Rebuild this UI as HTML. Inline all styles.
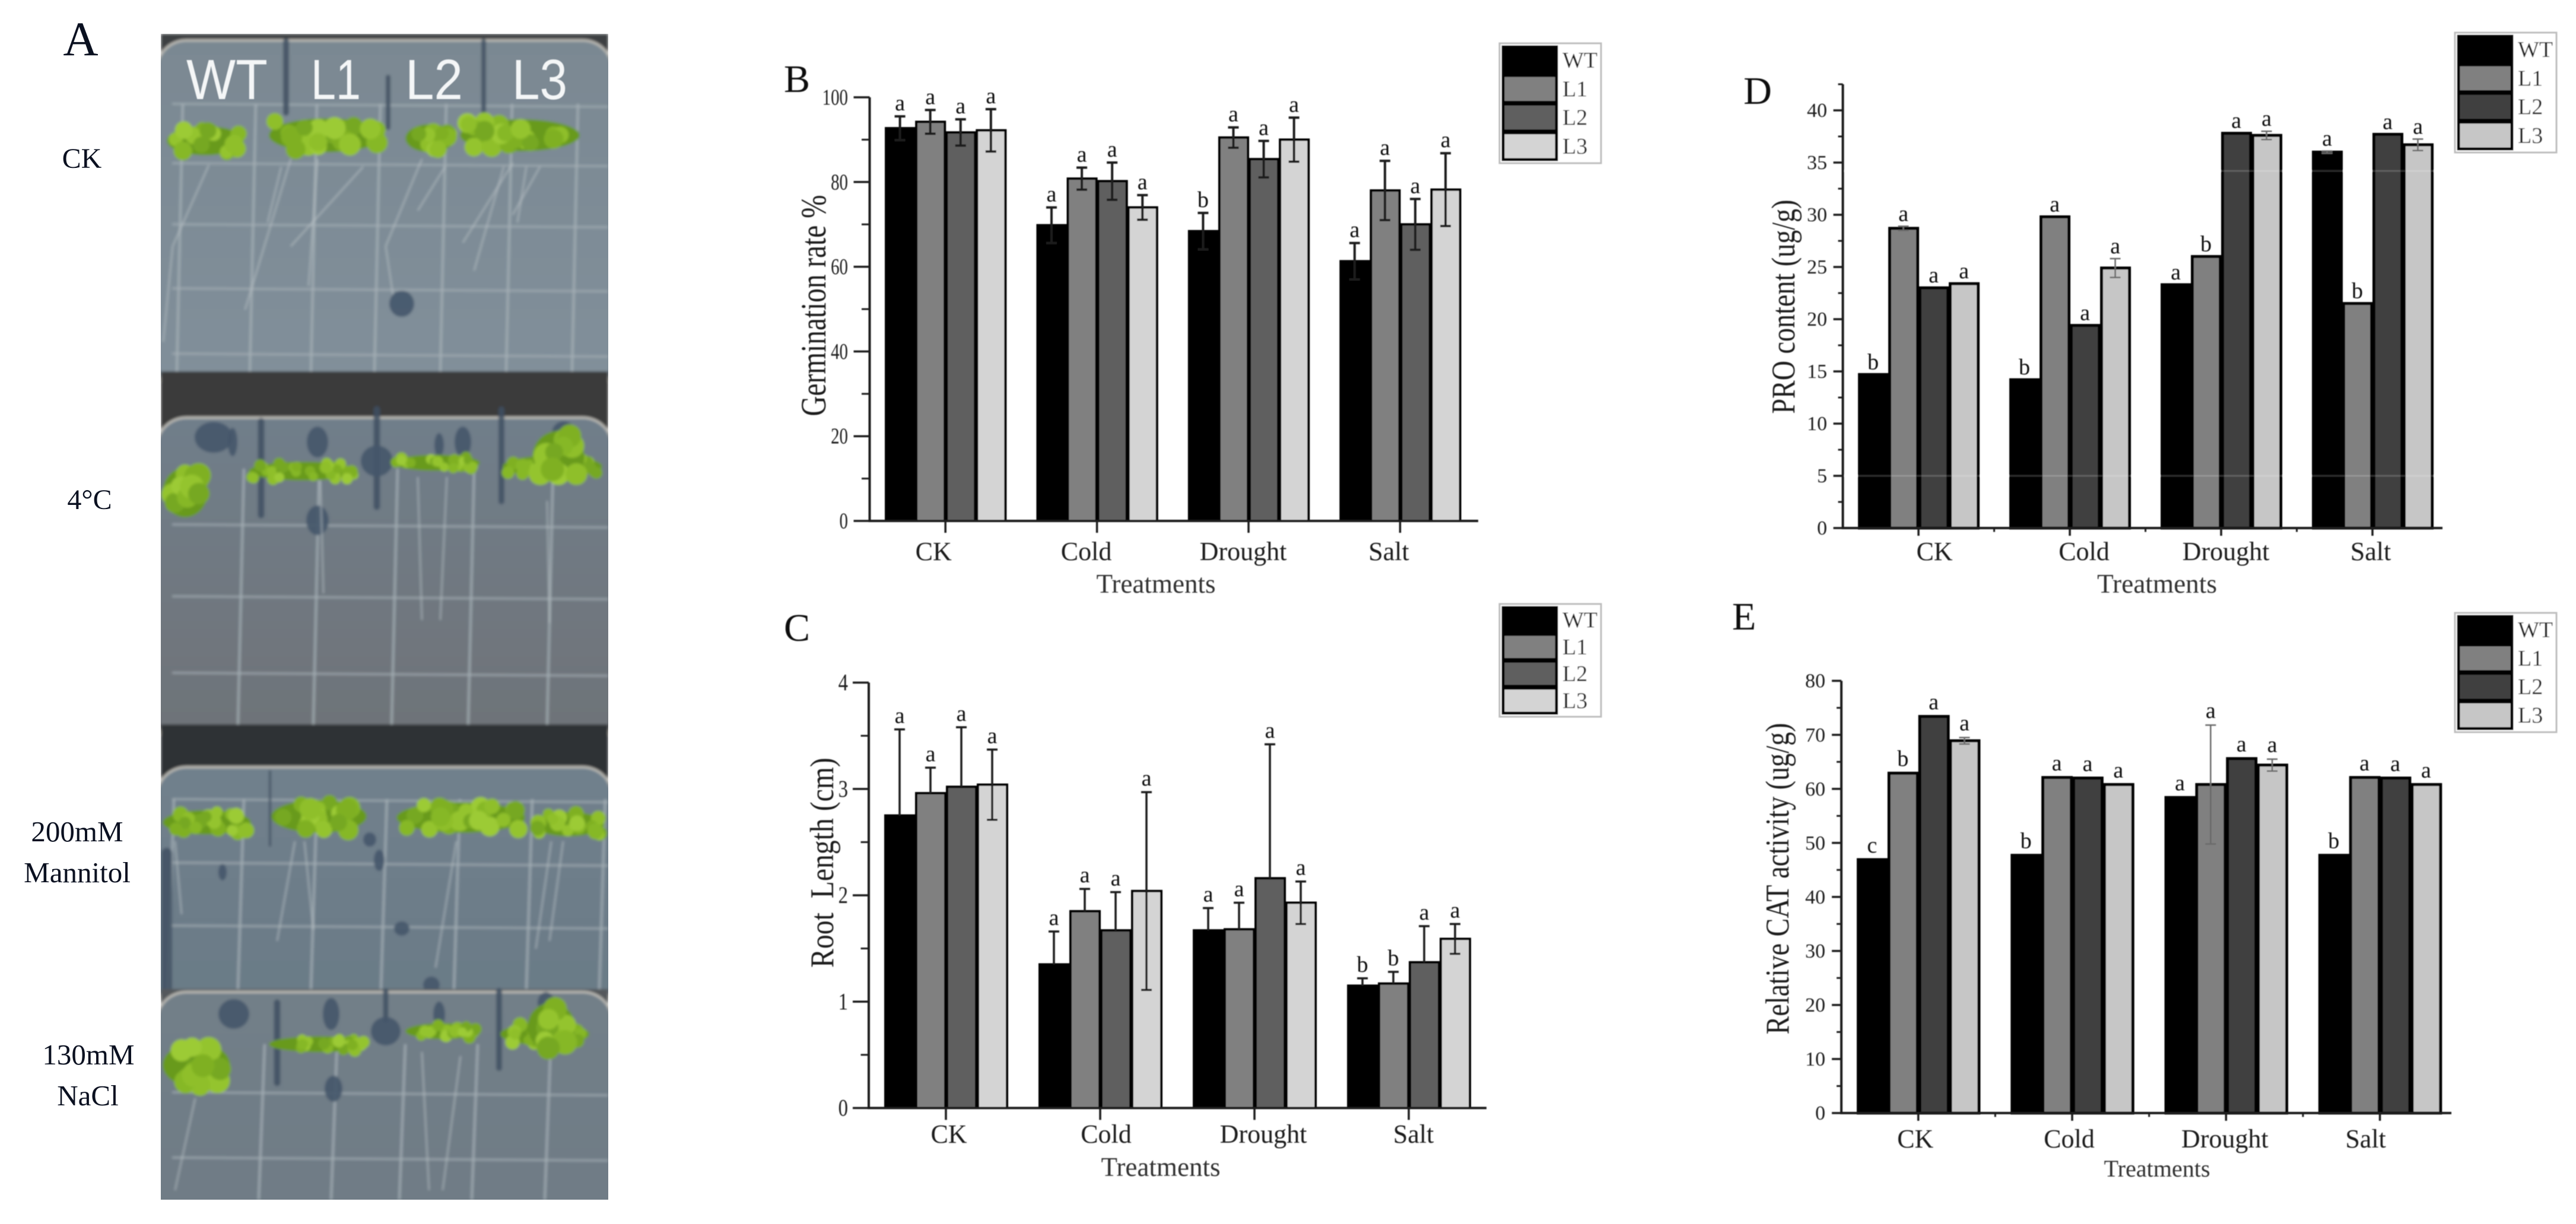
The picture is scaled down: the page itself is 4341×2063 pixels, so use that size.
<!DOCTYPE html>
<html lang="en">
<head>
<meta charset="utf-8">
<title>Seedling stress phenotype and physiological measurements</title>
<style>
html,body{margin:0;padding:0;background:#fff;width:4341px;height:2063px;overflow:hidden}
svg{display:block}
text{font-family:"Liberation Serif","Noto Serif CJK SC",serif}
</style>
</head>
<body>
<svg id="figure" xmlns="http://www.w3.org/2000/svg" width="4341" height="2063" viewBox="0 0 4341 2063">
<defs>
<filter id="softPhoto" x="-5%" y="-5%" width="110%" height="110%"><feGaussianBlur stdDeviation="2.4"></feGaussianBlur></filter>
<filter id="softChart" x="-5%" y="-5%" width="110%" height="110%"><feGaussianBlur stdDeviation="0.9"></feGaussianBlur></filter>
<clipPath id="photoClip"><rect x="271" y="57" width="754" height="1965"></rect></clipPath>
</defs>
<g id="photo" clip-path="url(#photoClip)"><g id="photoInner" filter="url(#softPhoto)"></g></g>
<g font-family="Liberation Sans, sans-serif" fill="#f4f6f7" filter="url(#softChart)">
<text x="314" y="167" font-size="96" textLength="137" lengthAdjust="spacingAndGlyphs" style="font-family:'Liberation Sans',sans-serif">WT</text>
<text x="524" y="167" font-size="96" textLength="84" lengthAdjust="spacingAndGlyphs" style="font-family:'Liberation Sans',sans-serif">L1</text>
<text x="683" y="167" font-size="96" textLength="97" lengthAdjust="spacingAndGlyphs" style="font-family:'Liberation Sans',sans-serif">L2</text>
<text x="863" y="167" font-size="96" textLength="93" lengthAdjust="spacingAndGlyphs" style="font-family:'Liberation Sans',sans-serif">L3</text>
</g>
<g fill="#0a1020" font-size="49" text-anchor="middle">
<text x="136" y="93" font-size="82">A</text>
<text x="138" y="283" font-size="48">CK</text>
<text x="151" y="858" font-size="48">4°C</text>
<text x="130" y="1418">200mM</text>
<text x="130" y="1487">Mannitol</text>
<text x="149" y="1794">130mM</text>
<text x="148" y="1863">NaCl</text>
</g>
<g id="charts" filter="url(#softChart)"></g>
</svg>
<script>
/* ---------- chart data ---------- */
const categories = ['CK', 'Cold', 'Drought', 'Salt'];
const seriesNames = ['WT', 'L1', 'L2', 'L3'];

const germinationTicks = [0, 20, 40, 60, 80, 100];
const germinationWT = [92.7, 69.8, 68.4, 61.3];
const germinationL1 = [94.2, 80.8, 90.5, 78.0];
const germinationL2 = [91.7, 80.2, 85.4, 70.0];
const germinationL3 = [92.2, 74.0, 90.0, 78.2];
const germinationErrWT = [2.8, 4.2, 4.3, 4.3];
const germinationErrL1 = [2.8, 2.6, 2.4, 7.0];
const germinationErrL2 = [3.1, 4.4, 4.3, 6.0];
const germinationErrL3 = [5.0, 2.9, 5.2, 8.6];
const germinationLetters = [['a','a','b','a'], ['a','a','a','a'], ['a','a','a','a'], ['a','a','a','a']];

const rootTicks = [0, 1, 2, 3, 4];
const rootWT = [2.75, 1.35, 1.67, 1.15];
const rootL1 = [2.96, 1.85, 1.68, 1.17];
const rootL2 = [3.02, 1.67, 2.16, 1.37];
const rootL3 = [3.04, 2.04, 1.93, 1.59];
const rootErrWT = [0.81, 0.31, 0.21, 0.07];
const rootErrL1 = [0.24, 0.21, 0.25, 0.11];
const rootErrL2 = [0.56, 0.36, 1.26, 0.34];
const rootErrL3 = [0.33, 0.93, 0.20, 0.14];
const rootLetters = [['a','a','a','b'], ['a','a','a','b'], ['a','a','a','a'], ['a','a','a','a']];

const proTicks = [0, 5, 10, 15, 20, 25, 30, 35, 40];
const proWT = [14.7, 14.2, 23.3, 36.0];
const proL1 = [28.7, 29.8, 26.0, 21.5];
const proL2 = [23.0, 19.4, 37.8, 37.7];
const proL3 = [23.4, 24.9, 37.6, 36.7];
const proErrWT = [0, 0, 0, 0.1];
const proErrL1 = [0.2, 0, 0, 0];
const proErrL2 = [0, 0, 0, 0];
const proErrL3 = [0, 0.9, 0.4, 0.55];
const proLetters = [['b','b','a','a'], ['a','a','b','b'], ['a','a','a','a'], ['a','a','a','a']];

const catTicks = [0, 10, 20, 30, 40, 50, 60, 70, 80];
const catWT = [46.9, 47.7, 58.4, 47.7];
const catL1 = [62.9, 62.1, 60.8, 62.1];
const catL2 = [73.4, 62.0, 65.6, 62.0];
const catL3 = [68.9, 60.8, 64.4, 60.8];
const catErrWT = [0, 0, 0, 0];
const catErrL1 = [0, 0, 11.0, 0];
const catErrL2 = [0, 0, 0, 0];
const catErrL3 = [0.6, 0, 1.1, 0];
const catLetters = [['c','b','a','b'], ['b','a','a','a'], ['a','a','a','a'], ['a','a','a','a']];

const NS = 'http://www.w3.org/2000/svg';
function mk(tag, parent) {
  const el = document.createElementNS(NS, tag);
  parent.appendChild(el);
  return el;
}
function setAll(el, o) {
  for (const k in o) el.setAttribute(k, o[k]);
  return el;
}

/* ---------- chart drawing ---------- */
function drawPanel(p) {
  const root = document.getElementById('charts');
  const g = mk('g', root);
  
  

  const yScale = v => p.yZero - (v - 0) * (p.yZero - p.yAtMax) / p.vMax;
  const catX = i => p.x0 + p.catW * (i + 0.5);
  const barW = p.catW / 5;
  const barX = (c, s) => catX(c) - 2 * barW + s * barW;

  // bars
  p.values.forEach((vals, s) => {
    vals.forEach((v, c) => {
      const r = mk('rect', g);
      
      
      setAll(r, {x: barX(c, s) + p.barStroke / 2, y: yScale(v), width: barW - p.barStroke + 1, height: p.yZero - yScale(v), fill: p.fills[s], stroke: '#000', 'stroke-width': p.barStroke});
    });
  });

  // faint scan lines through the bars
  (p.scanLines || []).forEach(v => {
    const l = mk('line', g);
    
    
    setAll(l, {x1: p.x0, x2: p.xEnd, y1: yScale(v), y2: yScale(v), stroke: '#fff', 'stroke-opacity': 0.16, 'stroke-width': 3});
  });

  // error bars
  p.errors.forEach((errs, s) => {
    errs.forEach((e, c) => {
      if (!e) return;
      const x = barX(c, s) + barW / 2;
      const v = p.values[s][c];
      const drawLow = !p.lowerOnly || p.lowerOnly.indexOf(s) >= 0;
      const y2 = yScale(drawLow ? v - e : v);
      const eb = mk('g', g);
      
      
      setAll(eb, {stroke: p.errColor, 'stroke-width': p.errWidth});
      const stem = mk('line', eb);
      
      
      setAll(stem, {x1: x, x2: x, y1: yScale(v + e), y2: y2});
      const capTop = mk('line', eb);
      
      
      setAll(capTop, {x1: x - 9, x2: x + 9, y1: yScale(v + e), y2: yScale(v + e)});
      if (drawLow) {
        const capLow = mk('line', eb);
        
        
        setAll(capLow, {x1: x - 9, x2: x + 9, y1: y2, y2: y2});
      }
    });
  });

  // significance letters
  p.letters.forEach((row, s) => {
    row.forEach((ch, c) => {
      const t = mk('text', g);
      
      
      setAll(t, {x: barX(c, s) + barW / 2, y: yScale(p.values[s][c] + p.errors[s][c]) - p.letterGap, 'font-size': 38, 'text-anchor': 'middle', fill: '#111'});
      t.textContent = ch;
    });
  });

  // axes
  const ax = mk('path', g);
  
  
  setAll(ax, {d: 'M' + p.x0 + ' ' + (yScale(p.vAxisTop)) + 'V' + p.yZero + 'H' + p.xEnd, fill: 'none', stroke: '#1a1a1a', 'stroke-width': 4});

  // y ticks and labels
  p.ticks.forEach((v, i) => {
    const tk = mk('line', g);
    
    
    setAll(tk, {x1: p.x0 - p.yTickLen, x2: p.x0, y1: yScale(v), y2: yScale(v), stroke: '#1a1a1a', 'stroke-width': 3.5});
    const lb = mk('text', g);
    
    
    const str = String(v);
    setAll(lb, {x: p.tickLabelX, y: yScale(v) + p.tickSize * 0.33, 'font-size': p.tickSize, 'text-anchor': 'end', fill: '#1a1a1a', textLength: str.length * p.tickSize * 0.5 * p.tickCond, lengthAdjust: 'spacingAndGlyphs'});
    lb.textContent = str;
    if (i < p.ticks.length - 1) {
      const m = (v + p.ticks[i + 1]) / 2;
      const mt = mk('line', g);
      
      
      setAll(mt, {x1: p.x0 - p.yTickLen / 2, x2: p.x0, y1: yScale(m), y2: yScale(m), stroke: '#1a1a1a', 'stroke-width': 3});
    }
  });
  if (p.vAxisTop > p.ticks[p.ticks.length - 1]) {
    const mt = mk('line', g);
    
    
    setAll(mt, {x1: p.x0 - p.yTickLen / 2, x2: p.x0, y1: yScale(p.vAxisTop), y2: yScale(p.vAxisTop), stroke: '#1a1a1a', 'stroke-width': 3});
  }

  // x ticks and category labels
  categories.forEach((name, c) => {
    const tk = mk('line', g);
    
    
    setAll(tk, {x1: catX(c), x2: catX(c), y1: p.yZero, y2: p.yZero + p.xTickLen, stroke: '#1a1a1a', 'stroke-width': 3.5});
    if (p.betweenTicks && c > 0) {
      const bt = mk('line', g);
      
      
      setAll(bt, {x1: p.x0 + p.catW * c, x2: p.x0 + p.catW * c, y1: p.yZero, y2: p.yZero + p.xTickLen / 2, stroke: '#1a1a1a', 'stroke-width': 3});
    }
    const lb = mk('text', g);
    
    
    setAll(lb, {x: catX(c) + p.catShift[c], y: p.catY, 'font-size': 44, 'text-anchor': 'middle', fill: '#1a1a1a'});
    lb.textContent = name;
  });

  // axis titles
  const xt = mk('text', g);
  
  
  setAll(xt, {x: p.xTitle[0], y: p.xTitle[1], 'font-size': p.xTitle[3], 'text-anchor': 'middle', fill: '#333', textLength: p.xTitle[2], lengthAdjust: 'spacingAndGlyphs'});
  xt.textContent = 'Treatments';

  const yt = mk('text', g);
  
  
  const bx = p.yTitle[0] + p.yTitleSize * 0.32;
  setAll(yt, {x: bx, y: p.yTitle[1], 'font-size': p.yTitleSize, 'text-anchor': 'middle', fill: '#1a1a1a', textLength: p.yTitle[2], lengthAdjust: 'spacingAndGlyphs', transform: 'rotate(-90 ' + bx + ' ' + p.yTitle[1] + ')'});
  yt.textContent = p.yLabel;

  // panel letter
  const pl = mk('text', g);
  
  
  setAll(pl, {x: p.letterPos[0], y: p.letterPos[1], 'font-size': 66, 'text-anchor': 'middle', fill: '#111'});
  pl.textContent = p.letter;

  // legend
  const lg = mk('g', g);
  
  
  const box = mk('rect', lg);
  
  
  setAll(box, {x: p.legend.x, y: p.legend.y, width: p.legend.w, height: p.legend.h, fill: '#fff', stroke: '#bdbdbd', 'stroke-width': 3});
  const rowH = (p.legend.h - 9) / 4;
  seriesNames.forEach((s, i) => {
    const sw = mk('rect', lg);
    
    
    setAll(sw, {x: p.legend.x + 6, y: p.legend.y + 6 + rowH * i, width: 90, height: rowH - 3, fill: p.fills[i], stroke: '#000', 'stroke-width': 5});
    const tx = mk('text', lg);
    
    
    setAll(tx, {x: p.legend.x + 106, y: p.legend.y + 6 + rowH * (i + 0.5) + 11, 'font-size': 38, fill: '#1a1a1a'});
    tx.textContent = s;
  });
}

drawPanel({
  letter: 'B', x0: 1465.5, catW: 255.4, xEnd: 2491, yZero: 878, yAtMax: 164, vMax: 100, vAxisTop: 100,
  values: [germinationWT, germinationL1, germinationL2, germinationL3],
  errors: [germinationErrWT, germinationErrL1, germinationErrL2, germinationErrL3],
  letters: germinationLetters, ticks: germinationTicks,
  fills: ['#000', '#808080', '#5f5f5f', '#d4d4d4'],
  barStroke: 4, errColor: '#1c1c1c', errWidth: 4, letterGap: 10,
  yTickLen: 27, xTickLen: 20, tickLabelX: 1429, tickSize: 38, tickCond: 0.76,
  catShift: [-20, -18, -9, -19], catY: 944,
  xTitle: [1948, 999, 201, 46], yTitle: [1372, 515, 373], yTitleSize: 60, yLabel: 'Germination rate %',
  letterPos: [1343, 155], legend: {x: 2527, y: 73, w: 171, h: 202}
});
drawPanel({
  letter: 'C', x0: 1464, catW: 260, xEnd: 2505, yZero: 1867.5, yAtMax: 1150.5, vMax: 4, vAxisTop: 4,
  values: [rootWT, rootL1, rootL2, rootL3],
  errors: [rootErrWT, rootErrL1, rootErrL2, rootErrL3],
  letters: rootLetters, ticks: rootTicks, lowerOnly: [3],
  fills: ['#000', '#808080', '#5f5f5f', '#d4d4d4'],
  barStroke: 4, errColor: '#1c1c1c', errWidth: 3.5, letterGap: 11,
  yTickLen: 27, xTickLen: 20, tickLabelX: 1429, tickSize: 40, tickCond: 0.82,
  catShift: [5, 10, 15, 8], catY: 1926,
  xTitle: [1956, 1982, 201, 46], yTitle: [1386, 1454, 354], yTitleSize: 56, yLabel: 'Root\u00a0\u00a0Length (cm)',
  letterPos: [1343, 1080], legend: {x: 2527, y: 1018, w: 171, h: 190}
});
drawPanel({
  letter: 'D', x0: 3105.5, catW: 255, xEnd: 4116, yZero: 890, yAtMax: 186, vMax: 40, vAxisTop: 42.5,
  values: [proWT, proL1, proL2, proL3],
  errors: [proErrWT, proErrL1, proErrL2, proErrL3],
  letters: proLetters, ticks: proTicks, scanLines: [5, 34.2],
  fills: ['#000', '#808080', '#404040', '#c6c6c6'],
  barStroke: 5, errColor: '#6a6a6a', errWidth: 2.5, letterGap: 9,
  yTickLen: 16, xTickLen: 13, tickLabelX: 3079, tickSize: 34, tickCond: 1, betweenTicks: true,
  catShift: [27, 24, 8, -3], catY: 944,
  xTitle: [3635, 999, 202, 46], yTitle: [3006, 517, 361], yTitleSize: 56, yLabel: 'PRO content (ug/g)',
  letterPos: [2962, 175], legend: {x: 4137, y: 55, w: 171, h: 202}
});
drawPanel({
  letter: 'E', x0: 3103, catW: 259.3, xEnd: 4131, yZero: 1876, yAtMax: 1147.5, vMax: 80, vAxisTop: 80,
  values: [catWT, catL1, catL2, catL3],
  errors: [catErrWT, catErrL1, catErrL2, catErrL3],
  letters: catLetters, ticks: catTicks,
  fills: ['#000', '#808080', '#404040', '#c6c6c6'],
  barStroke: 5, errColor: '#6a6a6a', errWidth: 2.5, letterGap: 12,
  yTickLen: 16, xTickLen: 13, tickLabelX: 3076, tickSize: 34, tickCond: 1, betweenTicks: true,
  catShift: [-5, -5, -2, -24], catY: 1934,
  xTitle: [3635, 1983, 179, 40], yTitle: [2996, 1481, 525], yTitleSize: 56, yLabel: 'Relative CAT activity (ug/g)',
  letterPos: [2939, 1061], legend: {x: 4137, y: 1033, w: 171, h: 201}
});

/* ---------- photo panel (illustration only, not chart data) ---------- */
const photo = document.getElementById('photoInner');
const platePanels = [
  {name: 'ck', y0: 57, y1: 626, bandEnd: 70, stripe: 68, top: '#7a8892', bot: '#818f9a', band: '#3d3f42',
   v: [302, 425, 528, 635, 746, 857, 968], h: [175, 275, 378, 486, 596], gridTop: 175,
   clumps: [[279, 413, 237, 62], [451, 650, 228, 72], [681, 769, 233, 60], [773, 979, 228, 68]],
   strokes: [[482, 70, 190, 10], [654, 130, 215, 8], [815, 70, 190, 8]],
   blots: [[677, 512, 21, 22]],
   roots: [[352,278,291,415],[291,415,275,576],[490,268,413,522],[612,281,490,415],[535,268,520,482],[474,281,451,375],[650,415,662,496],[711,268,650,415],[750,281,704,355],[864,275,780,409],[849,281,799,456],[910,281,864,362],[887,281,872,375]]},
  {name: 'cold', y0: 626, y1: 1221, bandEnd: 700, stripe: 704, top: '#6f7e8a', bot: '#6e7277', band: '#3a3a3a',
   v: [405, 532, 664, 793, 926], h: [884, 1005, 1134], gridTop: 790,
   clumps: [[272, 352, 830, 105], [417, 604, 794, 40], [658, 811, 780, 34], [845, 1017, 786, 46], [895, 987, 770, 110]],
   strokes: [[440, 710, 868, 11], [635, 690, 854, 11], [845, 690, 845, 10]],
   blots: [[360, 737, 32, 26], [392, 745, 8, 24], [535, 745, 18, 26], [635, 777, 27, 26], [535, 877, 19, 25], [780, 745, 14, 26], [740, 750, 8, 20], [950, 730, 20, 20]],
   roots: [[922,844,926,1050],[704,804,711,1045],[753,804,742,1045],[540,810,545,1000]]},
  {name: 'mannitol', y0: 1221, y1: 1667, bandEnd: 1283, stripe: 1293, top: '#70808c', bot: '#6a7a86', band: '#2e3235',
   v: [287, 405, 528, 646, 769, 891, 1014], h: [1347, 1454, 1560], gridTop: 1347,
   clumps: [[272, 425, 1386, 52], [455, 620, 1376, 70], [666, 887, 1378, 65], [895, 1021, 1389, 52]],
   strokes: [[455, 1300, 1425, 4], [281, 1438, 1664, 18]],
   blots: [[677, 1565, 13, 12], [727, 1660, 14, 14], [639, 1450, 9, 18], [375, 1470, 7, 14], [623, 1415, 11, 12]],
   roots: [[295,1418,306,1541],[497,1418,467,1586],[513,1418,528,1567],[769,1418,734,1631],[929,1418,903,1599],[949,1418,926,1586]]},
  {name: 'salt', y0: 1667, y1: 2022, bandEnd: 1668, stripe: 1672, top: '#727f88', bot: '#6e7b85', band: '#55585b',
   v: [440, 562, 677, 799, 922], h: [1841, 1951], gridTop: 1760,
   clumps: [[272, 390, 1795, 95], [451, 623, 1760, 34], [681, 811, 1738, 34], [841, 995, 1743, 48], [887, 971, 1730, 100]],
   strokes: [[467, 1690, 1825, 11], [650, 1670, 1720, 9], [841, 1670, 1800, 10]],
   blots: [[394, 1709, 26, 25], [558, 1709, 14, 27], [650, 1738, 25, 24], [562, 1835, 15, 22], [740, 1710, 10, 22], [920, 1690, 14, 18]],
   roots: [[329,1851,295,2006],[711,1773,723,2006],[776,1780,746,2006]]}
];
const leafTints = ['#86b828', '#94c42e', '#76a820', '#8fbf2a', '#7fb024', '#9ccb34'];
/* deterministic scatter for leaf placement in the photo illustration */
function scatter(n) {
  const s = Math.sin(n * 12.9898) * 43758.5453;
  return s - Math.floor(s);
}

platePanels.forEach((pl, pi) => {
  const g = mk('g', photo);
  
  

  const gradId = 'grad-' + pl.name;
  const lg = mk('linearGradient', g);
  
  
  setAll(lg, {id: gradId, x1: 0, y1: 0, x2: 0, y2: 1});
  const s1 = mk('stop', lg);
  
  
  setAll(s1, {offset: '0', 'stop-color': pl.top});
  const s2 = mk('stop', lg);
  
  
  setAll(s2, {offset: '1', 'stop-color': pl.bot});

  const bg = mk('rect', g);
  
  
  setAll(bg, {x: 271, y: pl.y0, width: 754, height: pl.y1 - pl.y0, fill: pl.band});

  const inner = mk('rect', g);
  
  
  setAll(inner, {x: 264, y: pl.stripe, width: 768, height: pl.y1 - pl.stripe + 40, rx: 50, fill: 'url(#' + gradId + ')', stroke: '#bdbcb6', 'stroke-width': 4});

  pl.v.forEach(x => {
    const l = mk('line', g);
    
    
    setAll(l, {x1: x + 6, x2: x - 4, y1: pl.gridTop, y2: pl.y1, stroke: '#a9b4ba', 'stroke-width': 4, 'stroke-opacity': 0.75});
  });
  pl.h.forEach(y => {
    const l = mk('line', g);
    
    
    setAll(l, {x1: 290, x2: 1025, y1: y, y2: y + 5, stroke: '#a6b0b7', 'stroke-width': 3.5, 'stroke-opacity': 0.7});
  });
  pl.strokes.forEach(a => {
    const l = mk('line', g);
    
    
    setAll(l, {x1: a[0], x2: a[0], y1: a[1], y2: a[2], stroke: '#3f5061', 'stroke-width': a[3], 'stroke-linecap': 'round', 'stroke-opacity': 0.85});
  });
  pl.blots.forEach(a => {
    const e = mk('ellipse', g);
    
    
    setAll(e, {cx: a[0], cy: a[1], rx: a[2], ry: a[3], fill: '#45566a', 'fill-opacity': 0.9});
  });
  pl.roots.forEach(a => {
    const l = mk('line', g);
    
    
    setAll(l, {x1: a[0], y1: a[1], x2: a[2], y2: a[3], stroke: '#c0c8cc', 'stroke-width': 2.5, 'stroke-opacity': 0.6});
  });
  pl.clumps.forEach((a, ci) => {
    const cl = mk('g', g);
    
    
    const w = a[1] - a[0];
    const hh = a[3];
    const cx = (a[0] + a[1]) / 2;
    const base = mk('ellipse', cl);
    
    
    setAll(base, {cx: cx, cy: a[2], rx: w / 2 - 2, ry: hh * 0.4, fill: '#689a1c'});
    const r = Math.max(10, Math.min(hh * 0.24, 20));
    const n = Math.round(w * hh / (r * r * 2.4));
    for (let i = 0; i < n; i++) {
      const lf = mk('circle', cl);
      
      
      const seed = pi * 100 + ci * 17 + i + 1;
      const px = a[0] + r * 0.7 + (w - r * 1.4) * scatter(seed);
      const py = a[2] + (scatter(seed + 0.5) - 0.5) * (hh - r * 1.3);
      setAll(lf, {cx: px, cy: py, r: r * (0.75 + 0.35 * scatter(seed + 0.25)), fill: leafTints[i % leafTints.length]});
    }
  });
});
</script>
</body>
</html>
